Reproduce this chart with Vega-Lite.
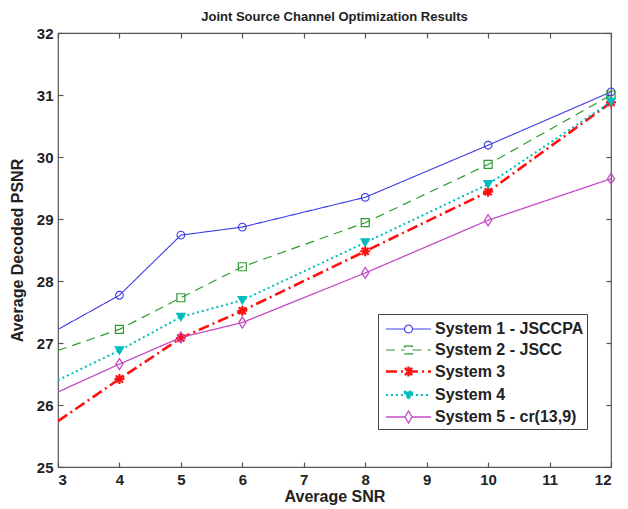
{
  "$schema": "https://vega.github.io/schema/vega-lite/v6.json",
  "width": 553,
  "height": 434,
  "autosize": {"type": "none"},
  "padding": {"left": 58, "top": 33, "right": 17, "bottom": 42},
  "background": "white",
  "title": {"text": "Joint Source Channel Optimization Results", "font": "Liberation Sans", "fontSize": 13, "fontWeight": "bold", "color": "#222222", "offset": 2, "anchor": "middle"},
  "config": {
    "view": {"stroke": "#555555", "strokeWidth": 1.2},
    "axis": {
      "grid": false, "domain": false,
      "tickSize": -5, "tickColor": "#555555", "tickWidth": 1.2,
      "labelFont": "Liberation Sans", "labelFontSize": 15, "labelFontWeight": "bold", "labelColor": "#222222",
      "titleFont": "Liberation Sans", "titleFontSize": 16, "titleFontWeight": "bold", "titleColor": "#222222"
    }
  },
  "data": {"values": [
    {"snr": 3, "psnr": 27.22, "system": "System 1 - JSCCPA"},
    {"snr": 4, "psnr": 27.77, "system": "System 1 - JSCCPA"},
    {"snr": 5, "psnr": 28.74, "system": "System 1 - JSCCPA"},
    {"snr": 6, "psnr": 28.87, "system": "System 1 - JSCCPA"},
    {"snr": 8, "psnr": 29.35, "system": "System 1 - JSCCPA"},
    {"snr": 10, "psnr": 30.19, "system": "System 1 - JSCCPA"},
    {"snr": 12, "psnr": 31.05, "system": "System 1 - JSCCPA"},
    {"snr": 3, "psnr": 26.88, "system": "System 2 - JSCC"},
    {"snr": 4, "psnr": 27.22, "system": "System 2 - JSCC"},
    {"snr": 5, "psnr": 27.73, "system": "System 2 - JSCC"},
    {"snr": 6, "psnr": 28.23, "system": "System 2 - JSCC"},
    {"snr": 8, "psnr": 28.94, "system": "System 2 - JSCC"},
    {"snr": 10, "psnr": 29.88, "system": "System 2 - JSCC"},
    {"snr": 12, "psnr": 31.0, "system": "System 2 - JSCC"},
    {"snr": 3, "psnr": 25.74, "system": "System 3"},
    {"snr": 4, "psnr": 26.42, "system": "System 3"},
    {"snr": 5, "psnr": 27.08, "system": "System 3"},
    {"snr": 6, "psnr": 27.52, "system": "System 3"},
    {"snr": 8, "psnr": 28.48, "system": "System 3"},
    {"snr": 10, "psnr": 29.44, "system": "System 3"},
    {"snr": 12, "psnr": 30.88, "system": "System 3"},
    {"snr": 3, "psnr": 26.4, "system": "System 4"},
    {"snr": 4, "psnr": 26.88, "system": "System 4"},
    {"snr": 5, "psnr": 27.42, "system": "System 4"},
    {"snr": 6, "psnr": 27.69, "system": "System 4"},
    {"snr": 8, "psnr": 28.62, "system": "System 4"},
    {"snr": 10, "psnr": 29.56, "system": "System 4"},
    {"snr": 12, "psnr": 30.89, "system": "System 4"},
    {"snr": 3, "psnr": 26.21, "system": "System 5 - cr(13,9)"},
    {"snr": 4, "psnr": 26.66, "system": "System 5 - cr(13,9)"},
    {"snr": 5, "psnr": 27.09, "system": "System 5 - cr(13,9)"},
    {"snr": 6, "psnr": 27.33, "system": "System 5 - cr(13,9)"},
    {"snr": 8, "psnr": 28.13, "system": "System 5 - cr(13,9)"},
    {"snr": 10, "psnr": 28.98, "system": "System 5 - cr(13,9)"},
    {"snr": 12, "psnr": 29.65, "system": "System 5 - cr(13,9)"}
  ]},
  "layer": [
    {
      "mark": {"type": "line", "clip": true},
      "encoding": {
        "x": {"field": "snr", "type": "quantitative", "scale": {"domain": [3, 12], "nice": false},
              "axis": {"orient": "bottom", "values": [3,4,5,6,7,8,9,10,11,12], "title": "Average SNR", "labelPadding": 10, "titlePadding": 1}},
        "y": {"field": "psnr", "type": "quantitative", "scale": {"domain": [25, 32], "nice": false},
              "axis": {"orient": "left", "values": [25,26,27,28,29,30,31,32], "title": "Average Decoded PSNR", "labelPadding": 10, "titlePadding": 11}},
        "color": {"field": "system", "type": "nominal", "legend": null,
                  "scale": {"domain": ["System 1 - JSCCPA","System 2 - JSCC","System 3","System 4","System 5 - cr(13,9)"],
                            "range": ["#3c3ce6","#2e9a2e","#ff1010","#00bcbc","#c44cc4"]}},
        "strokeDash": {"field": "system", "type": "nominal", "legend": null,
                  "scale": {"domain": ["System 1 - JSCCPA","System 2 - JSCC","System 3","System 4","System 5 - cr(13,9)"],
                            "range": [[1,0],[9,6],[11,4,2,4],[2,3],[1,0]]}},
        "strokeWidth": {"field": "system", "type": "nominal", "legend": null,
                  "scale": {"type": "ordinal", "domain": ["System 1 - JSCCPA","System 2 - JSCC","System 3","System 4","System 5 - cr(13,9)"],
                            "range": [1.1, 1.2, 2.6, 2, 1.3]}}
      }
    },
    {
      "transform": [{"filter": "datum.snr >= 4"}],
      "mark": {"type": "point", "opacity": 1, "clip": false},
      "encoding": {
        "x": {"field": "snr", "type": "quantitative", "axis": {"orient": "top", "values": [3,4,5,6,7,8,9,10,11,12], "labels": false, "title": null}},
        "y": {"field": "psnr", "type": "quantitative", "axis": {"orient": "right", "values": [25,26,27,28,29,30,31,32], "labels": false, "title": null}},
        "color": {"field": "system", "type": "nominal", "legend": null,
                  "scale": {"domain": ["System 1 - JSCCPA","System 2 - JSCC","System 3","System 4","System 5 - cr(13,9)"],
                            "range": ["#3c3ce6","#2e9a2e","#ff1010","#00bcbc","#c44cc4"]}},
        "fill": {"field": "system", "type": "nominal", "legend": null,
                  "scale": {"domain": ["System 1 - JSCCPA","System 2 - JSCC","System 3","System 4","System 5 - cr(13,9)"],
                            "range": ["transparent","transparent","transparent","#00bcbc","transparent"]}},
        "shape": {"field": "system", "type": "nominal", "legend": null,
                  "scale": {"domain": ["System 1 - JSCCPA","System 2 - JSCC","System 3","System 4","System 5 - cr(13,9)"],
                            "range": ["circle","square","M-1,0H1M0,-1V1M-0.7,-0.7L0.7,0.7M-0.7,0.7L0.7,-0.7","triangle-down","M0,-1L0.65,0L0,1L-0.65,0Z"]}},
        "size": {"field": "system", "type": "nominal", "legend": null,
                  "scale": {"type": "ordinal", "domain": ["System 1 - JSCCPA","System 2 - JSCC","System 3","System 4","System 5 - cr(13,9)"],
                            "range": [60, 64, 100, 64, 120]}},
        "strokeWidth": {"field": "system", "type": "nominal", "legend": null,
                  "scale": {"type": "ordinal", "domain": ["System 1 - JSCCPA","System 2 - JSCC","System 3","System 4","System 5 - cr(13,9)"],
                            "range": [1.1, 1.2, 2.2, 1.5, 1.3]}}
      }
    },
    {
      "mark": {"type": "point", "opacity": 0},
      "encoding": {
        "x": {"field": "snr", "type": "quantitative", "axis": null},
        "y": {"field": "psnr", "type": "quantitative", "axis": null},
        "color": {"field": "system", "type": "nominal",
                  "scale": {"domain": ["System 1 - JSCCPA","System 2 - JSCC","System 3","System 4","System 5 - cr(13,9)"],
                            "range": ["#3c3ce6","#2e9a2e","#ff1010","#00bcbc","#c44cc4"]},
                  "legend": {"orient": "none", "legendX": 320, "legendY": 281, "title": null,
                             "strokeColor": "#444444", "fillColor": "white", "padding": 3,
                             "labelFont": "Liberation Sans", "labelFontSize": 16, "labelFontWeight": "bold", "labelColor": "#222222",
                             "symbolSize": 484, "symbolOpacity": 1, "rowPadding": 1, "symbolOffset": 15, "labelOffset": 14}},
        "shape": {"field": "system", "type": "nominal",
                  "scale": {"domain": ["System 1 - JSCCPA","System 2 - JSCC","System 3","System 4","System 5 - cr(13,9)"],
                            "range": [
                              "M-2.05,0H-0.36M0.36,0H2.05M0.36,0A0.36,0.36,0,1,1,-0.36,0A0.36,0.36,0,1,1,0.36,0",
                              "M-2.05,0H-0.36M0.36,0H2.05M-0.36,-0.36H0.36V0.36H-0.36Z",
                              "M-2.05,0H2.05M0,-0.45V0.45M-0.33,-0.33L0.33,0.33M-0.33,0.33L0.33,-0.33",
                              "M-2.05,0H2.05M-0.42,-0.32H0.42L0,0.42Z",
                              "M-2.05,0H-0.32M0.32,0H2.05M0,-0.55L0.32,0L0,0.55L-0.32,0Z"]},
                  "legend": {"orient": "none", "legendX": 320, "legendY": 281, "title": null,
                             "strokeColor": "#444444", "fillColor": "white", "padding": 3,
                             "labelFont": "Liberation Sans", "labelFontSize": 16, "labelFontWeight": "bold", "labelColor": "#222222",
                             "symbolSize": 484, "symbolOpacity": 1, "rowPadding": 1, "symbolOffset": 15, "labelOffset": 14}},
        "strokeDash": {"field": "system", "type": "nominal",
                  "scale": {"domain": ["System 1 - JSCCPA","System 2 - JSCC","System 3","System 4","System 5 - cr(13,9)"],
                            "range": [[1,0],[9,6],[11,4,2,4],[2,3],[1,0]]},
                  "legend": {"orient": "none", "legendX": 320, "legendY": 281, "title": null}},
        "fill": {"field": "system", "type": "nominal",
                  "scale": {"domain": ["System 1 - JSCCPA","System 2 - JSCC","System 3","System 4","System 5 - cr(13,9)"],
                            "range": ["transparent","transparent","transparent","#00bcbc","transparent"]},
                  "legend": {"orient": "none", "legendX": 320, "legendY": 281, "title": null}},
        "strokeWidth": {"field": "system", "type": "nominal",
                  "scale": {"type": "ordinal", "domain": ["System 1 - JSCCPA","System 2 - JSCC","System 3","System 4","System 5 - cr(13,9)"],
                            "range": [1.1, 1.2, 2.4, 1.8, 1.3]},
                  "legend": {"orient": "none", "legendX": 320, "legendY": 281, "title": null}}
      }
    }
  ],
  "resolve": {
    "axis": {"x": "independent", "y": "independent"},
    "scale": {"color": "independent", "shape": "independent", "strokeDash": "independent", "fill": "independent", "strokeWidth": "independent", "size": "independent"}
  }
}
